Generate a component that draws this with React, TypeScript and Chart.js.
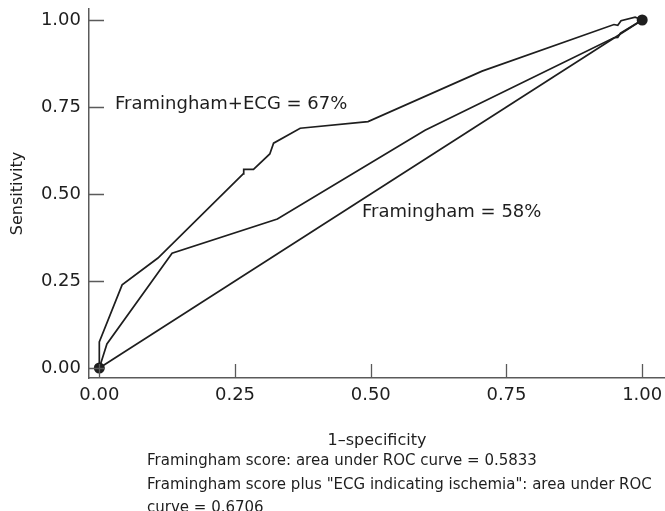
import React, { useEffect, useRef } from "react";
import { Chart, registerables } from "chart.js";

Chart.register(...registerables);

// ---- data ----
const diagX = [0, 1];
const diagY = [0, 1];

const framX = [0, 0.014, 0.134, 0.328, 0.6, 0.948, 0.955, 0.96, 1];
const framY = [0, 0.069, 0.33, 0.428, 0.683, 0.949, 0.95, 0.962, 1];

const ecgX = [0, 0, 0.042, 0.108, 0.265, 0.266, 0.284, 0.314, 0.321, 0.37, 0.495, 0.705, 0.948, 0.955, 0.961, 0.987, 1];
const ecgY = [0, 0.075, 0.239, 0.316, 0.558, 0.571, 0.571, 0.615, 0.646, 0.689, 0.708, 0.853, 0.987, 0.985, 0.998, 1.008, 1];

const endX = [0, 1];
const endY = [0, 1];

const xTicks = [0, 0.25, 0.5, 0.75, 1];
const yTicks = [0, 0.25, 0.5, 0.75, 1];

const xTitle = "1\u2013specificity";
const yTitle = "Sensitivity";

const labelEcg = "Framingham+ECG = 67%";
const labelEcgX = 0.029;
const labelEcgY = 0.759;
const labelFram = "Framingham = 58%";
const labelFramX = 0.484;
const labelFramY = 0.448;

const notes = [
  "Framingham score: area under ROC curve = 0.5833",
  "Framingham score plus \"ECG indicating ischemia\": area under ROC",
  "curve = 0.6706",
];

const FONT = "'DejaVu Sans', sans-serif";
const INK = "#1e1e1e";
const AXIS = "#5a5a5a";

const toPts = (xs: number[], ys: number[]) => xs.map((x, i) => ({ x, y: ys[i] }));

export default function App() {
  const ref = useRef<HTMLCanvasElement | null>(null);

  useEffect(() => {
    if (!ref.current) return;

    const innerTicks = {
      id: "innerTicks",
      afterDraw(chart: any) {
        const { ctx, chartArea, scales } = chart;
        ctx.save();
        ctx.strokeStyle = AXIS;
        ctx.lineWidth = 1.3;
        ctx.beginPath();
        yTicks.forEach((v) => {
          const y = Math.round(scales.y.getPixelForValue(v)) + 0.5;
          ctx.moveTo(chartArea.left, y);
          ctx.lineTo(chartArea.left + 15, y);
        });
        xTicks.forEach((v) => {
          const x = Math.round(scales.x.getPixelForValue(v)) + 0.5;
          ctx.moveTo(x, chartArea.bottom);
          ctx.lineTo(x, chartArea.bottom - 14);
        });
        ctx.stroke();
        ctx.restore();
      },
    };

    const labels = {
      id: "curveLabels",
      afterDatasetsDraw(chart: any) {
        const { ctx, scales } = chart;
        ctx.save();
        ctx.fillStyle = INK;
        ctx.font = `18px ${FONT}`;
        ctx.textAlign = "left";
        ctx.textBaseline = "middle";
        ctx.fillText(labelEcg, scales.x.getPixelForValue(labelEcgX), scales.y.getPixelForValue(labelEcgY));
        ctx.fillText(labelFram, scales.x.getPixelForValue(labelFramX), scales.y.getPixelForValue(labelFramY));
        ctx.restore();
      },
    };

    const lineDs = (data: any[]) => ({
      data,
      showLine: true,
      borderColor: INK,
      borderWidth: 1.7,
      pointRadius: 0,
      fill: false,
      tension: 0,
    });

    const zeroPad = (s: any) => {
      s.paddingLeft = 0;
      s.paddingRight = 0;
      s.paddingTop = 0;
      s.paddingBottom = 0;
    };

    const chart = new Chart(ref.current, {
      type: "scatter",
      data: {
        datasets: [
          {
            data: toPts(endX, endY),
            showLine: false,
            pointRadius: 5.5,
            pointBackgroundColor: INK,
            pointBorderColor: INK,
            borderWidth: 0,
          } as any,
          lineDs(toPts(ecgX, ecgY)),
          lineDs(toPts(framX, framY)),
          lineDs(toPts(diagX, diagY)),
        ],
      },
      options: {
        animation: false,
        responsive: false,
        layout: { autoPadding: false, padding: { top: 9, left: 0, right: 0, bottom: 0 } },
        plugins: { legend: { display: false }, tooltip: { enabled: false } },
        scales: {
          x: {
            type: "linear",
            min: -0.019,
            max: 1.042,
            afterBuildTicks: (s: any) => {
              s.ticks = xTicks.map((v) => ({ value: v }));
            },
            afterFit: (s: any) => {
              s.height = 133;
              zeroPad(s);
            },
            grid: { display: false, drawTicks: false },
            border: { display: true, color: AXIS, width: 1.5 },
            ticks: {
              padding: 7,
              color: INK,
              font: { family: FONT, size: 18 },
              maxRotation: 0,
              callback: (v: any) => Number(v).toFixed(2),
            },
            title: {
              display: true,
              text: xTitle,
              color: INK,
              font: { family: FONT, size: 16 },
              padding: { top: 0, bottom: 61 },
            },
          },
          y: {
            type: "linear",
            min: -0.0287,
            max: 1.0316,
            afterBuildTicks: (s: any) => {
              s.ticks = yTicks.map((v) => ({ value: v }));
            },
            afterFit: (s: any) => {
              s.width = 89;
              zeroPad(s);
            },
            grid: { display: false, drawTicks: false },
            border: { display: true, color: AXIS, width: 1.5 },
            ticks: {
              padding: 8,
              color: INK,
              font: { family: FONT, size: 18 },
              callback: (v: any) => Number(v).toFixed(2),
            },
            title: {
              display: true,
              text: yTitle,
              color: INK,
              font: { family: FONT, size: 16 },
              padding: { top: 8, bottom: 0 },
            },
          },
        },
      },
      plugins: [innerTicks, labels],
    } as any);

    return () => chart.destroy();
  }, []);

  return (
    <div style={{ position: "absolute", left: 0, top: 0, width: 665, height: 511, background: "#fff", overflow: "hidden" }}>
      <canvas ref={ref} width={665} height={511} style={{ display: "block" }} />
      <div
        style={{
          position: "absolute",
          left: 147,
          top: 449,
          fontFamily: FONT,
          fontSize: 15,
          lineHeight: "23.5px",
          color: INK,
          whiteSpace: "nowrap",
        }}
      >
        {notes.map((n, i) => (
          <div key={i}>{n}</div>
        ))}
      </div>
    </div>
  );
}
